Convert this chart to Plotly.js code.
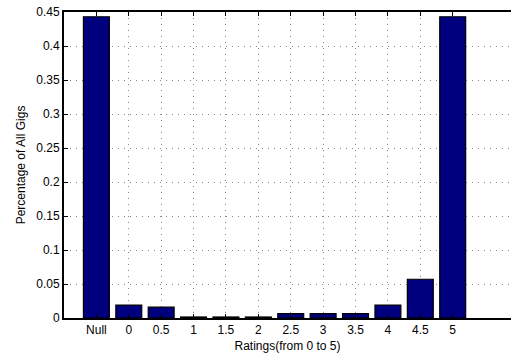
<!DOCTYPE html>
<html>
<head>
<meta charset="utf-8">
<script src="https://cdn.plot.ly/plotly-3.0.1.min.js"></script>
<style>html,body{margin:0;padding:0;background:#fff;}#chart{width:511px;height:354px;}</style>
</head>
<body>
<div id="chart"></div>
<script>
var categories = ["Null", "0", "0.5", "1", "1.5", "2", "2.5", "3", "3.5", "4", "4.5", "5"];
var shares = [0.443, 0.019, 0.016, 0.0015, 0.0015, 0.0015, 0.0063, 0.0063, 0.0063, 0.019, 0.057, 0.443];
var yTicks = [0, 0.05, 0.1, 0.15, 0.2, 0.25, 0.3, 0.35, 0.4, 0.45];
var yTickText = ["0", "0.05", "0.1", "0.15", "0.2", "0.25", "0.3", "0.35", "0.4", "0.45"];

var xIdx = categories.map(function (c, i) { return i; });

var trace = {
  type: "bar",
  x: xIdx,
  y: shares,
  width: 0.8,
  marker: { color: "#00007f", line: { color: "#000", width: 1.2 } },
  hoverinfo: "skip"
};

var font = { family: "Liberation Sans, Arial, Helvetica, sans-serif", size: 12, color: "#000" };

var layout = {
  width: 511,
  height: 354,
  margin: { l: 64, r: 0, t: 12, b: 36 },
  paper_bgcolor: "#fff",
  plot_bgcolor: "#fff",
  showlegend: false,
  font: font,
  bargap: 0.2,
  xaxis: {
    range: [-1, 12.8],
    tickmode: "array",
    tickvals: xIdx,
    ticktext: categories,
    ticks: "inside",
    ticklen: 4,
    tickcolor: "#000",
    showline: true,
    linecolor: "#000",
    linewidth: 2,
    mirror: "ticks",
    showgrid: true,
    gridcolor: "#888",
    griddash: "1px,5px",
    gridwidth: 1,
    zeroline: false,
    tickfont: font,
    automargin: false,
    title: { text: "Ratings(from 0 to 5)", font: font, standoff: 5 }
  },
  yaxis: {
    range: [0, 0.45],
    tickmode: "array",
    tickvals: yTicks,
    ticktext: yTickText,
    ticks: "inside",
    ticklen: 4,
    tickcolor: "#000",
    showline: true,
    linecolor: "#000",
    linewidth: 2,
    mirror: false,
    showgrid: true,
    gridcolor: "#888",
    griddash: "1px,5px",
    gridwidth: 1,
    zeroline: false,
    tickfont: font,
    automargin: false,
    title: { text: "Percentage of All Gigs", font: font, standoff: 8 }
  }
};

Plotly.newPlot("chart", [trace], layout, { displayModeBar: false, staticPlot: true });
</script>
</body>
</html>
